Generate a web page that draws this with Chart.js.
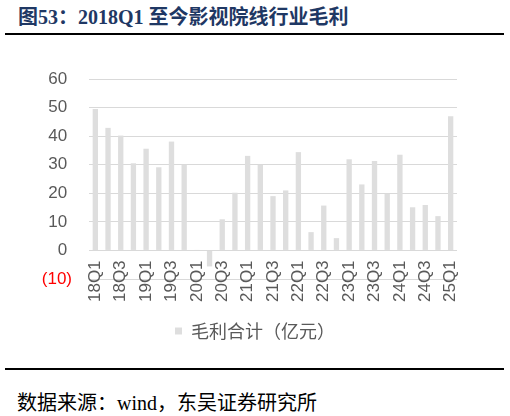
<!DOCTYPE html>
<html>
<head>
<meta charset="utf-8">
<script src="https://cdn.jsdelivr.net/npm/chart.js@4.4.1/dist/chart.umd.min.js"></script>
<style>
  html, body { margin: 0; padding: 0; background: #fff; }
  body { width: 510px; height: 416px; position: relative; overflow: hidden; }
  #title { position: absolute; left: 18px; top: 6px; line-height: 20px; font-family: "Liberation Serif", "Noto Sans CJK SC", serif; font-weight: bold; font-size: 20px; color: #1f3864; white-space: nowrap; }
  #title .cjk { font-family: "Noto Sans CJK SC", sans-serif; }
  #line1 { position: absolute; left: 5px; width: 499px; top: 33px; height: 2px; background: #000; }
  #line2 { position: absolute; left: 5px; width: 499px; top: 368px; height: 2px; background: #000; }
  #source { position: absolute; left: 17px; top: 392px; line-height: 20px; font-family: "Noto Sans CJK SC", sans-serif; font-size: 20px; color: #000; white-space: nowrap; }
  #source .lat { font-family: "Liberation Serif", serif; font-size: 20px; }
  #wrap { position: absolute; left: 0; top: 40px; width: 510px; height: 320px; }
</style>
</head>
<body>
<div id="title"><span class="cjk">图</span>53<span class="cjk">：</span>2018Q1 <span class="cjk">至今影视院线行业毛利</span></div>
<div id="line1"></div>
<div id="wrap"><canvas id="c"></canvas></div>
<div id="line2"></div>
<div id="source">数据来源：<span class="lat">wind</span>，东吴证券研究所</div>
<script>
const categories = ["18Q1","18Q2","18Q3","18Q4","19Q1","19Q2","19Q3","19Q4","20Q1","20Q2","20Q3","20Q4","21Q1","21Q2","21Q3","21Q4","22Q1","22Q2","22Q3","22Q4","23Q1","23Q2","23Q3","23Q4","24Q1","24Q2","24Q3","24Q4","25Q1"];
const grossProfit = [49.5,42.9,40.2,30.5,35.6,29.1,38.1,30.0,0.2,-5.6,10.9,20.2,33.1,30.0,19.0,21.0,34.4,6.4,15.7,4.3,31.9,23.1,31.3,19.8,33.5,15.1,15.9,12.0,47.0];
const seriesName = "毛利合计（亿元）";
const yMin = -10, yMax = 60, yStep = 10;

new Chart(document.getElementById('c'), {
  type: 'bar',
  data: {
    labels: categories,
    datasets: [{
      label: seriesName,
      data: grossProfit,
      backgroundColor: '#dedede',
      borderWidth: 0,
      barPercentage: 0.42,
      categoryPercentage: 1.0
    }]
  },
  options: {
    responsive: true,
    maintainAspectRatio: false,
    animation: false,
    layout: { padding: { left: 0, right: 0, top: 39, bottom: 10 } },
    plugins: {
      tooltip: { enabled: false },
      legend: {
        position: 'bottom',
        labels: {
          boxWidth: 7, boxHeight: 7, padding: 8,
          color: '#595959',
          font: { family: '"Noto Sans CJK SC", sans-serif', size: 18 }
        }
      }
    },
    scales: {
      x: {
        position: { y: 0 },
        grid: { display: false, drawTicks: false },
        border: { display: false },
        ticks: {
          autoSkip: false, minRotation: 90, maxRotation: 90, padding: 10,
          color: '#595959',
          font: { family: '"Liberation Sans", Arial, sans-serif', size: 17 },
          callback: function(v, i) { return i % 2 === 0 ? categories[i] : ''; }
        }
      },
      x2: {
        type: 'category',
        labels: categories,
        position: 'bottom',
        grid: { display: false, drawTicks: false },
        border: { display: false },
        ticks: { display: false },
        afterFit: function(s) { s.height = 35; }
      },
      y: {
        min: yMin, max: yMax,
        grid: { color: '#d9d9d9', lineWidth: 1, drawTicks: false },
        border: { display: false },
        ticks: {
          stepSize: yStep, padding: 17,
          color: function(ctx) { return ctx.tick && ctx.tick.value < 0 ? '#ff0000' : '#595959'; },
          font: { family: '"Liberation Sans", Arial, sans-serif', size: 17 },
          callback: function(v) { return v < 0 ? '(' + Math.abs(v) + ')' : v + ' '; }
        },
        afterFit: function(s) { s.width = 89; }
      },
      y2: {
        type: 'linear',
        position: 'right',
        grid: { display: false, drawTicks: false },
        border: { display: false },
        ticks: { display: false },
        afterFit: function(s) { s.width = 53; }
      }
    }
  }
});
</script>
</body>
</html>
